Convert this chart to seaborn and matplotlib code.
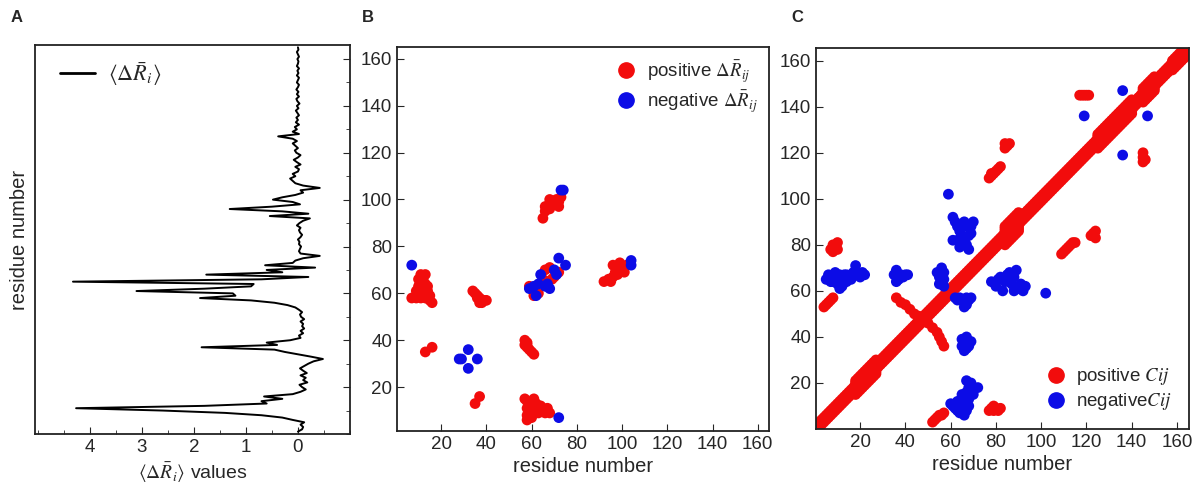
import numpy as np
import pandas as pd
import seaborn as sns
import matplotlib.pyplot as plt
from matplotlib.ticker import MultipleLocator
from matplotlib.lines import Line2D

# ---- panel A: per-residue <dR_i> profile (residues 1..165) ----
a_values = [
    0.0, -0.08, -0.1, -0.05, -0.12, 0.1, 0.3, 0.7, 1.4, 2.6,
    4.26, 1.8, 0.6, 0.7, 0.3, 0.65, 0.1, -0.05, -0.15, -0.08,
    -0.03, -0.18, -0.1, -0.15, -0.05, -0.17, -0.1, -0.04, -0.12, -0.2,
    -0.3, -0.48, -0.25, 0.0, 0.25, 0.45, 1.85, 0.4, 0.6, 0.15,
    -0.05, -0.02, -0.1, -0.05, -0.12, -0.08, -0.1, -0.05, -0.12, -0.06,
    -0.04, -0.08, -0.02, 0.05, 0.2, 0.45, 0.9, 1.88, 1.2, 1.25,
    3.1, 1.8, 0.9, 0.85, 4.32, 0.7, -0.2, 1.76, 0.3, 0.6,
    -0.33, 0.63, 0.1, 0.05, -0.1, -0.42, -0.05, -0.02, -0.04, -0.06,
    -0.02, -0.03, 0.0, -0.05, -0.08, -0.04, -0.02, -0.05, 0.02, -0.03,
    -0.1, -0.23, 0.54, -0.2, 0.3, 1.31, 0.5, -0.04, 0.1, 0.48,
    0.3, 0.05, -0.1, -0.05, -0.42, -0.1, 0.05, 0.1, 0.15, 0.05,
    0.1, 0.0, -0.02, 0.05, -0.05, 0.02, 0.08, 0.0, -0.05, 0.03,
    0.06, 0.0, 0.05, 0.1, 0.02, 0.1, 0.38, -0.02, 0.1, 0.02,
    0.06, -0.02, 0.04, 0.0, 0.03, -0.02, 0.01, 0.04, -0.01, 0.02,
    -0.03, 0.01, 0.03, -0.02, 0.02, -0.01, 0.03, 0.0, -0.02, 0.02,
    0.0, -0.02, 0.02, -0.01, 0.01, -0.02, 0.02, 0.0, -0.01, 0.01,
    -0.02, 0.0, 0.02, -0.01, 0.0,
]
a_residues = list(range(1, len(a_values) + 1))

# ---- panel B: significant dR_ij pairs ----
b_pos_x = [7, 9, 11, 13, 15, 16, 9, 11, 13, 15, 10, 12, 14, 10, 12, 13, 11, 13, 12, 14,
           34, 35, 36, 37, 38, 39, 40, 37, 38, 36,
           13, 16, 35, 37,
           57, 57, 58, 58, 59, 60, 61, 58,
           57, 58, 59, 60, 61, 62, 63, 64, 65, 66, 67, 68, 58, 58, 58, 59, 60, 61, 62, 63, 64,
           59, 61, 63, 66, 68, 70, 72, 65, 67, 69,
           65, 66, 67, 68, 69, 70, 71, 72, 73, 66, 68, 72,
           92, 94, 95, 96, 97, 96, 98, 99, 100, 101, 102, 98]
b_pos_y = [58, 58, 58, 58, 57, 56, 61, 60, 60, 59, 63, 62, 61, 66, 66, 64, 68, 68, 65, 63,
           61, 60, 59, 58, 57, 57, 57, 56, 56, 58,
           35, 37, 13, 16,
           40, 38, 37, 39, 36, 35, 34, 38,
           15, 14, 13, 12, 11, 10, 9, 10, 11, 9, 11, 9, 11, 8, 6, 9, 7, 15, 13, 12, 12,
           63, 59, 60, 70, 71, 67, 69, 66, 65, 66,
           92, 95, 97, 96, 99, 98, 100, 97, 101, 97, 100, 99,
           65, 66, 65, 67, 69, 72, 70, 73, 71, 69, 72, 68]
b_neg_x = [59, 62, 63, 64, 66, 68, 70, 72, 75, 61, 67, 71,
           73, 74, 104, 104, 28, 29, 32, 32, 36, 7, 72]
b_neg_y = [62, 59, 64, 68, 63, 62, 70, 75, 72, 63, 64, 68,
           104, 104, 74, 72, 32, 32, 36, 28, 32, 72, 7]

# ---- panel C: Cij contacts ----
# near-diagonal band: (first residue, last residue, max |i-j|)
c_band = [(1, 165, 1), (18, 27, 3), (84, 90, 4), (125, 140, 3), (145, 150, 3), (158, 165, 2)]
c_pos_x = [7, 8, 9, 10, 8, 10,
           4, 5, 6, 7, 8,
           52, 53, 54, 55, 56, 57,
           77, 78, 79, 80, 81, 82, 79,
           77, 78, 79, 80, 81, 82, 78,
           84, 85, 86, 84,
           109, 110, 111, 112, 113, 114, 115,
           122, 123, 124, 124,
           117, 118, 119, 120, 121,
           145, 145, 145, 146,
           36, 38, 40, 42, 44, 46, 48, 50, 52, 54, 55, 56, 57]
c_pos_y = [78, 80, 79, 81, 77, 78,
           53, 54, 55, 56, 57,
           3, 4, 5, 6, 6, 7,
           8, 9, 8, 9, 8, 9, 10,
           109, 110, 111, 112, 113, 114, 111,
           122, 123, 124, 124,
           76, 77, 78, 79, 80, 81, 81,
           84, 85, 86, 83,
           145, 145, 145, 145, 145,
           116, 118, 120, 117,
           57, 55, 54, 52, 50, 49, 47, 46, 44, 42, 40, 38, 36]
c_neg_x = [5, 6, 7, 8, 9, 10, 11, 12, 13, 14, 15, 16, 17, 18, 19, 20, 21, 22, 10, 12, 14, 8, 16, 11,
           35, 36, 37, 38, 39, 40, 36, 41,
           54, 55, 56, 57, 57, 56, 55, 57,
           62, 63, 64, 65, 66, 67, 68, 69, 66, 67,
           65, 66, 67, 68, 66, 67, 69, 65,
           60, 61, 62, 63, 64, 65, 66, 67, 68, 69, 70, 72, 66, 67, 68, 65, 64, 63, 67, 70, 68, 66, 62,
           61, 62, 63, 64, 63, 65, 66, 67, 68, 69, 70, 67, 68, 66, 61, 64, 69,
           59,
           78, 80, 82, 83, 84, 85, 86, 87, 88, 89, 90, 91, 92, 93, 88, 81, 86,
           102, 119, 136, 136, 147]
c_neg_y = [65, 67, 64, 66, 68, 63, 61, 65, 67, 64, 66, 65, 68, 71, 67, 66, 68, 67, 66, 62, 67, 64, 67, 67,
           67, 69, 65, 67, 66, 67, 64, 67,
           68, 66, 64, 62, 68, 70, 63, 65,
           57, 56, 57, 56, 55, 57, 56, 57, 53, 54,
           36, 38, 40, 36, 34, 35, 38, 39,
           11, 10, 9, 8, 10, 12, 14, 16, 18, 20, 18, 18, 6, 8, 10, 15, 7, 12, 21, 15, 13, 11, 11,
           92, 90, 88, 86, 82, 84, 82, 80, 84, 88, 90, 88, 78, 90, 82, 79, 85,
           102,
           64, 62, 66, 60, 64, 67, 68, 63, 66, 69, 61, 63, 60, 62, 60, 65, 64,
           59, 136, 147, 119, 136]

RED = "#f20c0c"
BLUE = "#0c0ce6"
PAL = {"positive": RED, "negative": BLUE}

sns.set_style("ticks")
plt.rcParams["font.family"] = ["Liberation Sans", "DejaVu Sans"]
plt.rcParams["mathtext.fontset"] = "stix"
plt.rcParams["axes.edgecolor"] = "#222222"
plt.rcParams["axes.linewidth"] = 1.3

fig = plt.figure(figsize=(11.97, 4.97), dpi=100)
axA = fig.add_axes([0.0292, 0.1268, 0.2632, 0.7827])
axB = fig.add_axes([0.3317, 0.1328, 0.3108, 0.7726])
axC = fig.add_axes([0.6817, 0.1368, 0.3116, 0.7666])

# ---- A ----
dfA = pd.DataFrame({"val": a_values, "res": a_residues})
sns.lineplot(data=dfA, x="val", y="res", sort=False, estimator=None,
             color="black", lw=1.4, ax=axA, orient="y")
axA.set_xlim(5.05, -1.0)
axA.set_ylim(0, 166)
axA.set_xticks([4, 3, 2, 1, 0])
axA.xaxis.set_minor_locator(MultipleLocator(0.5))
axA.yaxis.tick_right()
axA.set_yticks(range(20, 161, 20))
axA.yaxis.set_minor_locator(MultipleLocator(10))
axA.set_yticklabels([])
axA.tick_params(axis="both", which="both", direction="in", labelsize=13.5)
axA.tick_params(axis="both", which="major", length=5)
axA.tick_params(axis="both", which="minor", length=3)
axA.set_xlabel(r"$\langle\Delta\bar{R}_i\rangle$ values", fontsize=14, labelpad=3)
axA.set_ylabel("residue number", fontsize=14.5, labelpad=4)
axA.legend(handles=[Line2D([], [], color="black", lw=2)],
           labels=[r"$\langle\Delta\bar{R}_i\rangle$"],
           loc="upper left", frameon=False, fontsize=16,
           handlelength=1.6, handletextpad=0.6, borderaxespad=0.0,
           bbox_to_anchor=(0.05, 0.985))

# ---- B ----
dfB = pd.concat([
    pd.DataFrame({"i": b_pos_x, "j": b_pos_y, "sign": "positive"}),
    pd.DataFrame({"i": b_neg_x, "j": b_neg_y, "sign": "negative"}),
], ignore_index=True)
sns.scatterplot(data=dfB, x="i", y="j", hue="sign", palette=PAL, s=60,
                linewidth=0, ax=axB, legend=False)
axB.set_xlim(0.5, 165)
axB.set_ylim(1.3, 165)

# ---- C ----
band_i, band_j = [], []
for start, end, width in c_band:
    for r in range(start, end + 1):
        for off in range(-width, width + 1):
            band_i.append(r)
            band_j.append(r + off)
dfC = pd.concat([
    pd.DataFrame({"i": band_i, "j": band_j, "sign": "positive"}),
    pd.DataFrame({"i": c_pos_x, "j": c_pos_y, "sign": "positive"}),
    pd.DataFrame({"i": c_neg_x, "j": c_neg_y, "sign": "negative"}),
], ignore_index=True)
dfC = dfC[(dfC["j"] >= 1) & (dfC["j"] <= 165)]
sns.scatterplot(data=dfC, x="i", y="j", hue="sign", palette=PAL, s=60,
                linewidth=0, ax=axC, legend=False)
axC.set_xlim(0.5, 165.3)
axC.set_ylim(0, 165.5)

for ax in (axB, axC):
    ax.set_xticks(range(20, 161, 20))
    ax.set_yticks(range(20, 161, 20))
    ax.tick_params(axis="both", direction="in", length=5, labelsize=13.5)
    ax.set_xlabel("residue number", fontsize=14.5, labelpad=3)
    ax.set_ylabel("")

def dot(c):
    return Line2D([], [], marker="o", ls="", color=c, markersize=11)

axB.legend(handles=[dot(RED), dot(BLUE)],
           labels=[r"positive $\Delta\bar{R}_{ij}$", r"negative $\Delta\bar{R}_{ij}$"],
           loc="upper right", frameon=False, fontsize=13.5, handletextpad=0.1,
           labelspacing=0.2, borderaxespad=0.2)
axC.legend(handles=[dot(RED), dot(BLUE)],
           labels=[r"positive $Cij$", r"negative$Cij$"],
           loc="lower right", frameon=False, fontsize=13.5, handletextpad=0.1,
           labelspacing=0.2, borderaxespad=0.5)

for lab, x in (("A", 0.014), ("B", 0.307), ("C", 0.666)):
    fig.text(x, 0.964, lab, fontsize=12, fontweight="bold", ha="center", va="center")

fig.savefig("out.png", dpi=100)
